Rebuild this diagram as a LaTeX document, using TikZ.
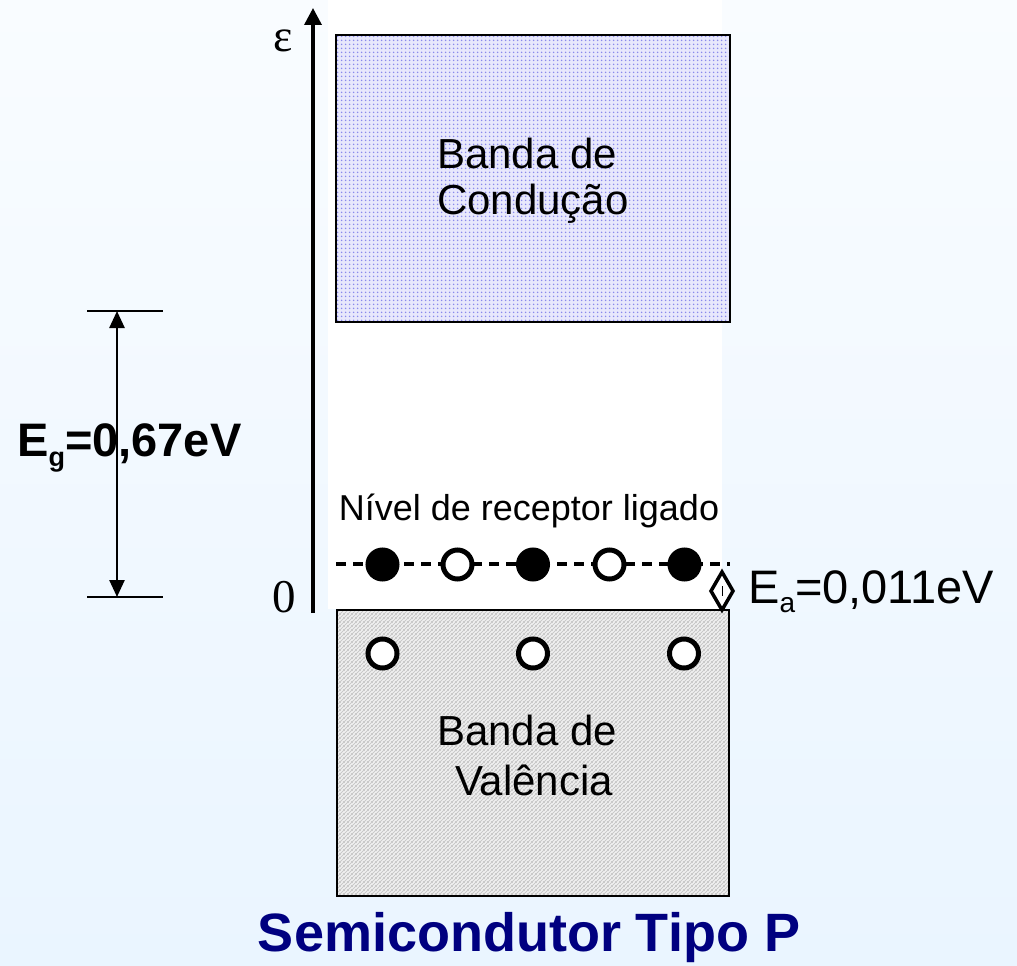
\documentclass[tikz,border=0pt]{standalone}
\usepackage{fontspec}
\setmainfont{Liberation Sans}
\newfontfamily\timesf{Liberation Serif}
\usetikzlibrary{arrows.meta,patterns.meta}
\definecolor{bgtop}{RGB}{249,252,255}
\definecolor{bgbot}{RGB}{234,245,255}
\definecolor{cbfill}{RGB}{232,232,252}
\definecolor{cbdot}{RGB}{138,138,236}
\definecolor{vbfill}{RGB}{242,242,242}
\definecolor{vbline}{RGB}{200,200,200}
\definecolor{navy}{RGB}{0,0,128}
\tikzdeclarepattern{
  name=bdots,
  type=uncolored,
  bottom left={(0pt,0pt)},
  top right={(4pt,4pt)},
  tile size={(4pt,4pt)},
  code={\fill (2pt,2pt) circle (1.05pt);}
}
\tikzdeclarepattern{
  name=hatchne,
  type=uncolored,
  bottom left={(0pt,0pt)},
  top right={(4pt,4pt)},
  tile size={(4pt,4pt)},
  code={\draw[line width=1.1pt] (-1pt,-1pt) -- (5pt,5pt);
        \draw[line width=1.1pt] (-1pt,3pt) -- (1pt,5pt);
        \draw[line width=1.1pt] (3pt,-1pt) -- (5pt,1pt);}
}
\tikzset{
  cband/.style={draw, line width=2.5pt, inner sep=0pt, rectangle,
    preaction={fill=cbfill}, pattern=bdots, pattern color=cbdot},
  vband/.style={draw, line width=2.5pt, inner sep=0pt, rectangle,
    preaction={fill=vbfill}, pattern=hatchne, pattern color=vbline},
  bandtxt/.style={anchor=base, inner sep=0pt, font=\fontsize{42}{48}\selectfont},
  hole/.style={circle, draw, line width=5pt, fill=white, minimum size=29pt, inner sep=0pt},
  elec/.style={circle, draw, line width=5pt, fill=black, minimum size=29pt, inner sep=0pt},
  tick/.style={line width=2.5pt},
}
\begin{document}
\begin{tikzpicture}[x=1pt,y=-1pt]
\useasboundingbox (0,0) rectangle (1017,966);
\shade[top color=bgtop,bottom color=bgbot] (0,0) rectangle (1017,966);
\fill[white] (328,0) rectangle (722,609);

% bands
\node[cband, minimum width=394pt, minimum height=287pt] (cb) at (533,178.5) {};
\node[vband, minimum width=392pt, minimum height=286pt] (vb) at (533,753) {};

\node[bandtxt] (cb1) at (527,168) {Banda de};
\node[bandtxt] (cb2) at (533,214) {Condução};
\node[bandtxt] (vb1) at (527,745) {Banda de};
\node[bandtxt] (vb2) at (534,795) {Valência};

% energy axis
\coordinate (ax0) at (313,613);
\coordinate (ax1) at (313,8);
\draw[line width=3.5pt,-{Triangle[length=17pt,width=17pt]}] (ax0) -- (ax1);
\node[anchor=base, inner sep=0pt, font=\timesf\fontsize{46}{50}\selectfont] (eps) at (283,52) {ε};
\node[anchor=base, inner sep=0pt, font=\timesf\fontsize{47}{50}\selectfont] (zero) at (284,612) {0};

% gap arrow
\coordinate (gt0) at (87,311);
\coordinate (gt1) at (163,311);
\coordinate (gb0) at (87,597);
\coordinate (gb1) at (163,597);
\coordinate (egt) at (117,311);
\coordinate (egb) at (117,597);
\draw[tick] (gt0) -- (gt1);
\draw[tick] (gb0) -- (gb1);
\draw[line width=2.5pt,{Triangle[length=17pt,width=15pt]}-{Triangle[length=17pt,width=15pt]}] (egt) -- (egb);
\node[anchor=base west, inner sep=0pt, font=\bfseries\fontsize{47}{50}\selectfont] (eg) at (17,456)
  {E\raisebox{-10pt}{\fontsize{27}{30}\selectfont g}=0,67eV};

% acceptor level
\node[anchor=base, inner sep=0pt, font=\fontsize{36}{42}\selectfont] (niv) at (529,520) {Nível de receptor ligado};
\coordinate (dl0) at (336,564);
\coordinate (dl1) at (730,564);
\draw[line width=3.5pt, dash pattern=on 10pt off 7pt] (dl0) -- (dl1);
\node[elec] (a1) at (382.5,564.5) {};
\node[hole] (a2) at (457.5,564.5) {};
\node[elec] (a3) at (533,564.5) {};
\node[hole] (a4) at (609.5,564.5) {};
\node[elec] (a5) at (684.5,564.5) {};

% valence holes
\node[hole] (h1) at (382.5,653.5) {};
\node[hole] (h2) at (533,653.5) {};
\node[hole] (h3) at (684,653.5) {};

% Ea marker
\coordinate (dt) at (722,572);
\coordinate (dr) at (733,591);
\coordinate (db) at (722,610);
\coordinate (dlft) at (711,591);
\coordinate (dm0) at (722,586);
\coordinate (dm1) at (722,596);
\draw[line width=3.5pt, line join=miter, fill=white] (dt) -- (dr) -- (db) -- (dlft) -- cycle;
\draw[line width=1pt] (dm0) -- (dm1);
\node[anchor=base west, inner sep=0pt, font=\fontsize{47}{50}\selectfont] (ea) at (748,603)
  {E\raisebox{-9pt}{\fontsize{28}{30}\selectfont a}=0,011eV};

% title
\node[anchor=base, inner sep=0pt, text=navy, font=\bfseries\fontsize{54}{58}\selectfont] (title) at (529,951) {Semicondutor Tipo P};
\end{tikzpicture}
\end{document}
